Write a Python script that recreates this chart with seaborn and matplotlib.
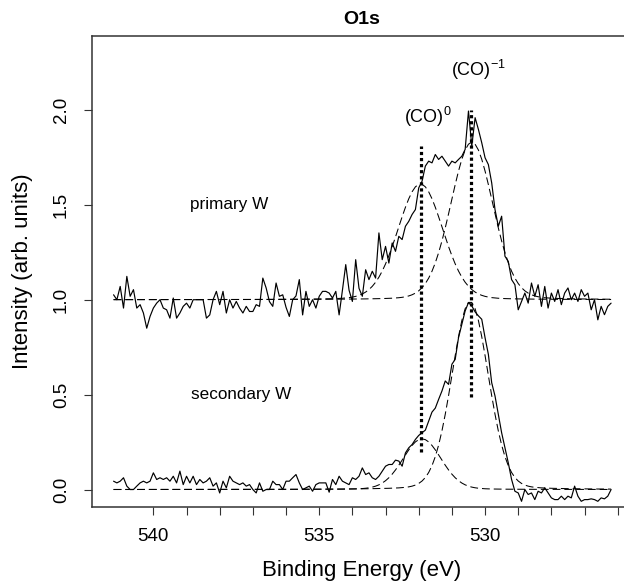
import numpy as np
import pandas as pd
import matplotlib
matplotlib.use("Agg")
import matplotlib.pyplot as plt
import seaborn as sns

# ---------------- data ----------------
energy_start = 541.2
energy_step = 0.1

primary_W = [
    1.026, 1.000, 1.070, 0.956, 1.123, 1.018, 1.053, 0.956, 0.974, 0.930,
    0.850, 0.912, 0.956, 0.982, 1.000, 0.956, 0.947, 0.903, 1.009, 0.903,
    0.930, 0.965, 0.982, 0.956, 1.000, 1.000, 1.000, 1.000, 0.903, 0.920,
    1.000, 1.044, 0.974, 1.044, 0.930, 1.000, 0.956, 0.991, 0.956, 0.930,
    0.965, 0.938, 0.938, 0.974, 0.965, 1.114, 1.062, 0.990, 0.965, 1.088,
    1.018, 1.026, 0.960, 0.912, 1.000, 1.020, 1.106, 0.920, 1.044, 0.965,
    1.000, 0.956, 1.018, 1.044, 1.044, 1.035, 1.009, 1.044, 0.920, 1.050,
    1.185, 1.050, 0.991, 1.211, 1.060, 1.018, 1.158, 1.106, 1.150, 1.114,
    1.352, 1.211, 1.281, 1.193, 1.299, 1.255, 1.334, 1.317, 1.387, 1.413,
    1.449, 1.475, 1.589, 1.624, 1.704, 1.730, 1.721, 1.765, 1.739, 1.756,
    1.730, 1.704, 1.730, 1.721, 1.739, 1.756, 1.792, 1.994, 1.810, 1.959,
    1.897, 1.827, 1.748, 1.712, 1.616, 1.475, 1.387, 1.440, 1.229, 1.202,
    1.106, 1.079, 0.947, 0.991, 1.035, 0.982, 1.088, 1.018, 1.079, 0.965,
    1.070, 0.956, 1.035, 0.991, 1.053, 0.974, 1.035, 1.062, 1.000, 1.035,
    0.991, 1.053, 1.018, 1.035, 0.947, 1.000, 0.894, 0.965, 0.921, 0.965,
    0.982,
]

secondary_W = [
    0.044, 0.035, 0.044, 0.062, 0.018, 0.000, 0.000, 0.018, 0.035, 0.044,
    0.035, 0.044, 0.088, 0.053, 0.062, 0.053, 0.062, 0.044, 0.070, 0.035,
    0.097, 0.026, 0.070, 0.035, 0.070, 0.026, 0.053, 0.035, 0.044, 0.062,
    0.018, 0.035, -0.018, 0.044, 0.009, 0.070, 0.044, 0.035, 0.026, 0.035,
    0.018, 0.026, 0.000, -0.018, 0.035, -0.009, 0.000, 0.000, 0.044, 0.026,
    0.026, 0.000, 0.044, 0.044, 0.062, 0.079, 0.035, 0.000, 0.009, 0.018,
    -0.009, 0.026, 0.035, 0.035, 0.035, -0.014, 0.053, 0.026, 0.070, 0.044,
    0.035, 0.026, 0.062, 0.053, 0.070, 0.114, 0.079, 0.088, 0.062, 0.053,
    0.070, 0.097, 0.123, 0.132, 0.132, 0.155, 0.150, 0.123, 0.193, 0.220,
    0.237, 0.264, 0.285, 0.299, 0.313, 0.361, 0.408, 0.429, 0.475, 0.519,
    0.572, 0.554, 0.660, 0.686, 0.800, 0.871, 0.941, 0.985, 0.967, 0.936,
    0.915, 0.897, 0.800, 0.712, 0.563, 0.493, 0.396, 0.299, 0.220, 0.141,
    0.053, -0.009, -0.018, -0.062, 0.000, -0.026, -0.018, -0.053, -0.009, -0.018,
    0.009, -0.018, -0.044, -0.053, -0.053, -0.035, -0.053, -0.035, -0.044, 0.018,
    -0.035, -0.062, -0.053, -0.053, -0.049, -0.053, -0.062, -0.044, -0.049, -0.035,
    0.000,
]

# fitted components: baseline, centre (eV), height, FWHM (eV)
component_names = ["(CO)0", "(CO)-1"]
primary_baseline = 1.0
primary_centres = [531.95, 530.40]
primary_heights = [0.61, 0.83]
primary_fwhm = [1.60, 1.50]
secondary_baseline = 0.0
secondary_centres = [531.90, 530.45]
secondary_heights = [0.267, 0.99]
secondary_fwhm = [1.36, 1.30]
lorentz_fraction = 0.1

# marker lines for the two species (eV, from, to)
marker_energy = [531.92, 530.41]
marker_low = [0.20, 0.49]
marker_high = [1.81, 2.00]

x_tick_labels = ["540", "535", "530"]

# ---------------- plot ----------------
n = len(primary_W)
energy = energy_start - energy_step * np.arange(n)
df = pd.DataFrame({"energy": np.concatenate([energy, energy]),
                   "intensity": primary_W + secondary_W,
                   "sample": ["primary W"] * n + ["secondary W"] * n})

def pv_component(x, base, c, h, w, eta):
    s = w / (2 * np.sqrt(2 * np.log(2)))
    g = np.exp(-0.5 * ((x - c) / s) ** 2)
    lor = 1.0 / (1.0 + ((x - c) / (w / 2)) ** 2)
    return base + h * ((1 - eta) * g + eta * lor)

sns.set_theme(style="white")
plt.rcParams["font.family"] = ["Liberation Sans", "DejaVu Sans"]
plt.rcParams["mathtext.fontset"] = "custom"
plt.rcParams["mathtext.rm"] = "Liberation Sans"
plt.rcParams["mathtext.it"] = "Liberation Sans"
plt.rcParams["text.color"] = "black"
plt.rcParams["axes.labelcolor"] = "black"
plt.rcParams["xtick.color"] = "black"
plt.rcParams["ytick.color"] = "black"

fig = plt.figure(figsize=(6.24, 5.81), dpi=100)
ax = fig.add_axes([92 / 624, 74 / 581, 539 / 624, 471.5 / 581])

sns.lineplot(data=df, x="energy", y="intensity", units="sample",
             estimator=None, color="black", lw=0.85, ax=ax, sort=True)

dash = (0, (7.5, 3.8))
for base, cs, hs, ws in [(primary_baseline, primary_centres, primary_heights, primary_fwhm),
                         (secondary_baseline, secondary_centres, secondary_heights, secondary_fwhm)]:
    for c, h, w in zip(cs, hs, ws):
        ax.plot(energy, pv_component(energy, base, c, h, w, lorentz_fraction),
                color="black", lw=0.75, linestyle=dash)

for e, lo, hi in zip(marker_energy, marker_low, marker_high):
    ax.plot([e, e], [lo, hi], color="black", lw=2.3,
            linestyle=(0, (1.0, 0.9)), dash_capstyle="butt")

ax.text(531.72, 1.963, r"(CO)$^{0}$", ha="center", va="center", fontsize=13)
ax.text(530.21, 2.208, r"(CO)$^{-1}$", ha="center", va="center", fontsize=13)
ax.text(537.72, 1.50, "primary W", ha="center", va="center", fontsize=12.3)
ax.text(537.34, 0.50, "secondary W", ha="center", va="center", fontsize=12.3)

ax.set_xlim(541.85, 525.6)
ax.set_ylim(-0.092, 2.392)

major = list(range(526, 541))
ax.set_xticks(major)
ax.set_xticklabels([str(t) if str(t) in x_tick_labels else "" for t in major])
ax.set_yticks([0.0, 0.5, 1.0, 1.5, 2.0])
ax.set_yticklabels(["0.0", "0.5", "1.0", "1.5", "2.0"], rotation=90, va="center")
ax.tick_params(axis="both", which="major", direction="out", length=6,
               width=0.8, color="#333333", labelsize=13.5, bottom=True, left=True,
               labelcolor="black")
ax.tick_params(axis="x", pad=9)
ax.tick_params(axis="y", pad=10)

for sp in ax.spines.values():
    sp.set_color("#333333")
    sp.set_linewidth(1.1)

ax.set_xlabel("Binding Energy (eV)", fontsize=16, labelpad=11, color="black")
ax.set_ylabel("Intensity (arb. units)", fontsize=16, labelpad=14, color="black")
ax.set_title("O1s", fontsize=14, fontweight="bold", pad=8, color="black")

fig.savefig("out.png", dpi=100)
